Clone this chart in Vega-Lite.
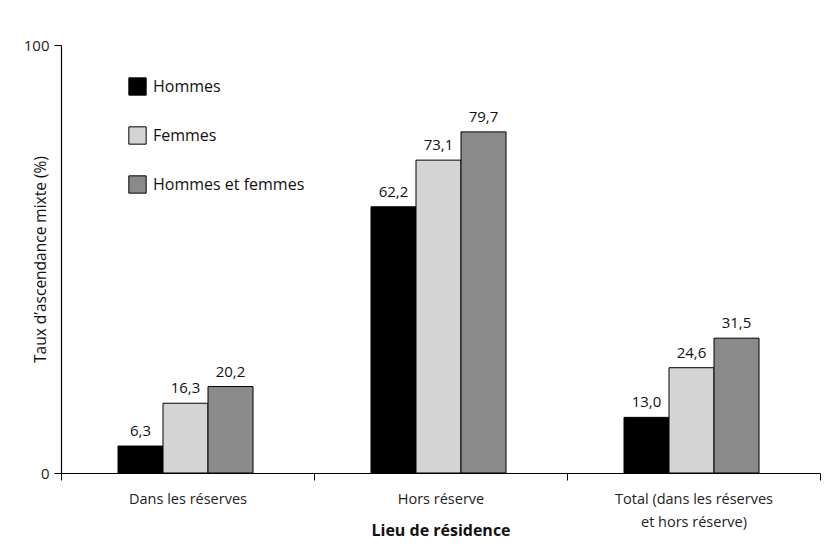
{
  "$schema": "https://vega.github.io/schema/vega-lite/v6.json",
  "width": 759,
  "height": 428,
  "autosize": {"type": "none"},
  "padding": {"left": 61, "top": 45, "right": 13, "bottom": 85},
  "background": "white",
  "config": {
    "font": "Open Sans",
    "view": {"stroke": null},
    "locale": {"number": {"decimal": ",", "thousands": " ", "grouping": [3], "currency": ["", " €"]}}
  },
  "data": {
    "values": [
      {"lieu": "Dans les réserves", "groupe": "Hommes", "taux": 6.3},
      {"lieu": "Dans les réserves", "groupe": "Femmes", "taux": 16.3},
      {"lieu": "Dans les réserves", "groupe": "Hommes et femmes", "taux": 20.2},
      {"lieu": "Hors réserve", "groupe": "Hommes", "taux": 62.2},
      {"lieu": "Hors réserve", "groupe": "Femmes", "taux": 73.1},
      {"lieu": "Hors réserve", "groupe": "Hommes et femmes", "taux": 79.7},
      {"lieu": "Total (dans les réserves|et hors réserve)", "groupe": "Hommes", "taux": 13.0},
      {"lieu": "Total (dans les réserves|et hors réserve)", "groupe": "Femmes", "taux": 24.6},
      {"lieu": "Total (dans les réserves|et hors réserve)", "groupe": "Hommes et femmes", "taux": 31.5}
    ]
  },
  "encoding": {
    "x": {
      "field": "lieu",
      "type": "nominal",
      "sort": null,
      "scale": {"paddingInner": 0, "paddingOuter": 0},
      "axis": {
        "title": "Lieu de résidence",
        "titleFont": "Open Sans",
        "titleFontSize": 16,
        "titleFontWeight": "bold",
        "titleColor": "#111",
        "titleY": 57,
        "titleBaseline": "middle",
        "labelAngle": 0,
        "labelExpr": "split(datum.label, '|')",
        "labelFontSize": 14.5,
        "labelColor": "#222",
        "labelPadding": 12,
        "labelLineHeight": 23,
        "tickBand": "extent",
        "tickSize": 7,
        "tickColor": "#000",
        "domainColor": "#000",
        "domainWidth": 1.2
      }
    },
    "xOffset": {
      "field": "groupe",
      "type": "nominal",
      "sort": ["Hommes", "Femmes", "Hommes et femmes"],
      "scale": {"paddingInner": 0, "paddingOuter": 0, "range": [57, 192]}
    },
    "y": {
      "field": "taux",
      "type": "quantitative",
      "scale": {"domain": [0, 100], "nice": false},
      "axis": {
        "title": "Taux d’ascendance mixte (%)",
        "titleFontSize": 15.5,
        "titleFontWeight": "normal",
        "titleColor": "#111",
        "titleX": -21,
        "titleY": 214,
        "titleAngle": 270,
        "titleAlign": "center",
        "titleBaseline": "middle",
        "values": [0, 100],
        "grid": false,
        "labelFontSize": 15,
        "labelColor": "#222",
        "labelPadding": 5,
        "tickSize": 7,
        "tickColor": "#000",
        "domainColor": "#000",
        "domainWidth": 1.2
      }
    }
  },
  "layer": [
    {
      "mark": {"type": "bar", "stroke": "#000", "strokeWidth": 1},
      "encoding": {
        "color": {
          "field": "groupe",
          "type": "nominal",
          "sort": ["Hommes", "Femmes", "Hommes et femmes"],
          "scale": {"domain": ["Hommes", "Femmes", "Hommes et femmes"], "range": ["#000000", "#d4d4d4", "#8a8a8a"]},
          "legend": {
            "title": null,
            "orient": "none",
            "legendX": 67,
            "legendY": 32,
            "symbolType": "square",
            "symbolSize": 300,
            "symbolStrokeColor": "#000",
            "symbolStrokeWidth": 1,
            "symbolOpacity": 1,
            "labelFontSize": 16,
            "labelColor": "#111",
            "labelOffset": 6,
            "rowPadding": 26
          }
        }
      }
    },
    {
      "mark": {"type": "text", "baseline": "bottom", "dy": -7, "fontSize": 15, "color": "#111"},
      "encoding": {
        "text": {"field": "taux", "type": "quantitative", "format": ".1f"}
      }
    }
  ]
}
